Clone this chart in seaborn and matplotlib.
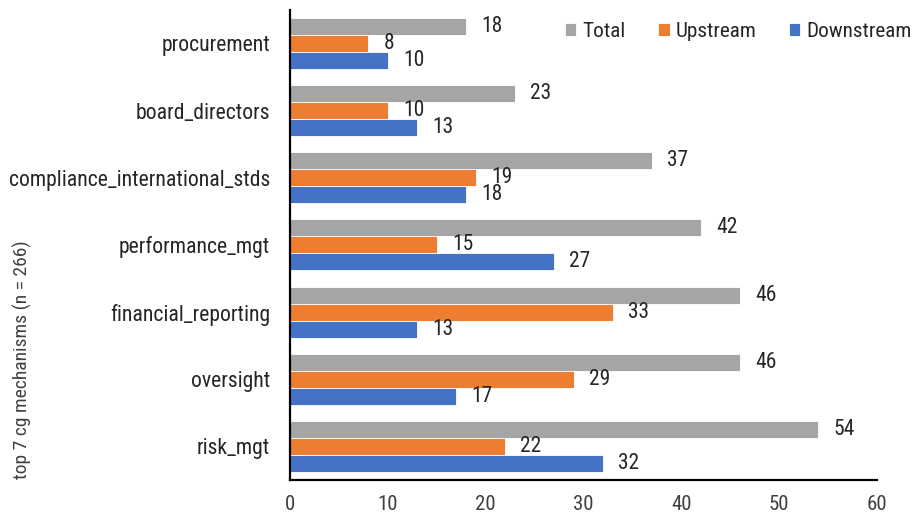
import matplotlib
matplotlib.use("Agg")
import matplotlib.pyplot as plt
import seaborn as sns
import pandas as pd

mechanisms = ["procurement", "board_directors", "compliance_international_stds",
              "performance_mgt", "financial_reporting", "oversight", "risk_mgt"]
total = [18, 23, 37, 42, 46, 46, 54]
upstream = [8, 10, 19, 15, 33, 29, 22]
downstream = [10, 13, 18, 27, 13, 17, 32]
series_names = ["Total", "Upstream", "Downstream"]
x_ticks = [0, 10, 20, 30, 40, 50, 60]

sns.set_theme(style="white")
plt.rcParams["font.family"] = ["Roboto Condensed", "Liberation Sans", "DejaVu Sans"]

df = pd.DataFrame({
    "mechanism": mechanisms * 3,
    "count": total + upstream + downstream,
    "series": [s for s in series_names for _ in mechanisms],
})

palette = {"Total": "#A5A5A5", "Upstream": "#ED7D31", "Downstream": "#4472C4"}

fig = plt.figure(figsize=(9.14, 5.19), dpi=100)
ax = fig.add_axes([0.317, 0.075, 0.6425, 0.906])

sns.barplot(data=df, y="mechanism", x="count", hue="series", orient="h",
            order=mechanisms, hue_order=series_names, palette=palette,
            width=0.76, saturation=1, errorbar=None, ax=ax,
            edgecolor="white", linewidth=0.6)

for cont in ax.containers:
    ax.bar_label(cont, padding=11, fontsize=15.5, color="#262626")

ax.set_xlim(0, 60)
ax.set_ylim(6.5, -0.5)
ax.set_xticks(x_ticks)
ax.tick_params(axis="x", labelsize=15, colors="#404040", length=0, pad=11)
ax.tick_params(axis="y", labelsize=15.7, colors="#262626", length=0, pad=14)
ax.set_xlabel("")
ax.set_ylabel("top 7 cg mechanisms (n = 266)", fontsize=14, color="#404040")
ax.yaxis.label.set_va("center")
ax.yaxis.set_label_coords(-0.455, 0.255)

for side in ["top", "right"]:
    ax.spines[side].set_visible(False)
for side in ["left", "bottom"]:
    ax.spines[side].set_color("black")
    ax.spines[side].set_linewidth(1.6)

handles, labels = ax.get_legend_handles_labels()
ax.legend(handles, labels, loc="center right", bbox_to_anchor=(0.998, 0.94),
          bbox_transform=fig.transFigure, ncol=3, frameon=False, fontsize=15.3,
          borderaxespad=0, borderpad=0,
          handlelength=0.55, handleheight=0.55, handletextpad=0.3, columnspacing=1.5,
          labelcolor="#262626")

fig.savefig("out.png", dpi=100)
